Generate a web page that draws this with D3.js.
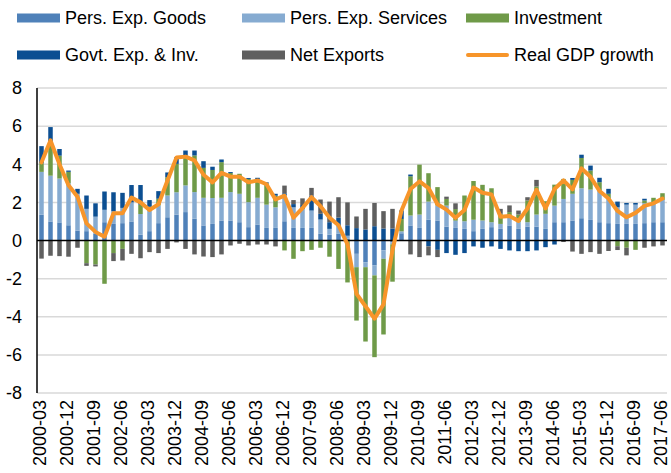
<!DOCTYPE html>
<html>
<head>
<meta charset="utf-8">
<script src="https://cdn.jsdelivr.net/npm/d3@7"></script>
<style>
  body { margin: 0; background: #fff; }
  svg { display: block; font-family: 'Liberation Sans', Arial, sans-serif; }
</style>
</head>
<body>
<svg id="chart" width="671" height="473"></svg>
<script>
// quarters, year-month of quarter end
const quarters = [
  '2000-03','2000-06','2000-09','2000-12','2001-03','2001-06','2001-09','2001-12',
  '2002-03','2002-06','2002-09','2002-12','2003-03','2003-06','2003-09','2003-12',
  '2004-03','2004-06','2004-09','2004-12','2005-03','2005-06','2005-09','2005-12',
  '2006-03','2006-06','2006-09','2006-12','2007-03','2007-06','2007-09','2007-12',
  '2008-03','2008-06','2008-09','2008-12','2009-03','2009-06','2009-09','2009-12',
  '2010-03','2010-06','2010-09','2010-12','2011-03','2011-06','2011-09','2011-12',
  '2012-03','2012-06','2012-09','2012-12','2013-03','2013-06','2013-09','2013-12',
  '2014-03','2014-06','2014-09','2014-12','2015-03','2015-06','2015-09','2015-12',
  '2016-03','2016-06','2016-09','2016-12','2017-03','2017-06'
];

// contributions to real GDP growth, percentage points
const goods = [
  1.35, 1.0, 0.95, 0.8, 0.52, 0.49, 0.35, 0.96, 0.87, 0.91, 1.0, 0.31,
  0.49, 0.91, 1.22, 1.36, 1.49, 1.14, 0.79, 0.87, 1.05, 1.05, 0.96, 0.7,
  0.84, 0.66, 0.66, 1.01, 0.66, 0.66, 0.66, 0.35, 0.3, 0.35, 0.1, -0.7,
  -1.14, -1.31, -0.52, -0.1, 0.38, 0.79, 0.66, 1.1, 1.05, 0.73, 0.66, 0.61,
  0.49, 0.61, 0.7, 0.61, 0.79, 0.61, 0.73, 0.73, 0.61, 0.96, 0.96, 1.05,
  1.17, 1.08, 0.96, 0.91, 0.87, 0.87, 0.87, 0.91, 0.96, 0.96
];
const services = [
  2.25, 2.4, 2.3, 2.2, 1.93, 1.17, 0.9, 0.65, 0.66, 0.8, 1.0, 1.08,
  1.08, 0.93, 1.14, 1.17, 1.4, 1.4, 1.45, 1.36, 1.19, 1.49, 1.49, 1.31,
  1.4, 1.22, 1.08, 1.35, 1.08, 1.0, 0.91, 0.75, 0.31, 0.4, 0.15, -0.7,
  -0.26, -0.52, -0.44, -0.1, 0.1, 0.52, 0.7, 0.94, 0.79, 1.1, 0.38, 0.4,
  0.6, 0.44, 0.26, 0.26, 0.44, 0.35, 0.23, 0.63, 0.79, 0.87, 1.22, 1.4,
  1.57, 1.59, 1.66, 1.28, 0.87, 1.01, 1.01, 1.05, 1.05, 1.17
];
const investment = [
  0.45, 1.7, 1.2, 0.6, 0.0, -1.19, -1.26, -2.27, -0.66, -0.44, 0.0, 0.49,
  0.2, 0.35, 0.96, 1.49, 1.57, 1.92, 1.57, 1.47, 1.87, 1.0, 1.05, 1.22,
  0.96, 1.12, 0.61, -0.52, -0.96, -0.56, -0.49, -0.38, -0.85, -1.49, -2.2, -2.8,
  -3.9, -4.29, -3.97, -1.96, 0.65, 2.06, 2.62, 1.49, 0.96, 0.35, 0.61, 1.35,
  2.03, 1.87, 1.78, 0.53, 0.26, 0.4, 1.14, 1.47, 0.66, 1.1, 1.05, 0.73,
  1.59, 1.0, 0.44, 0.26, -0.3, -0.38, -0.49, 0.14, 0.23, 0.35
];
const government = [
  0.9, 0.85, 0.35, 0.07, 0.26, 0.7, 0.7, 0.96, 1.0, 0.79, 0.91, 1.03,
  0.35, 0.4, 0.25, 0.35, 0.26, 0.26, 0.35, 0.17, 0.14, 0.05, 0.0, 0.05,
  0.09, 0.05, 0.1, 0.12, 0.17, 0.2, 0.79, 0.3, 0.35, 0.45, 0.55, 0.65,
  0.58, 0.75, 0.63, 0.63, 0.45, 0.09, 0.0, -0.31, -0.49, -0.66, -0.75, -0.66,
  -0.31, -0.38, -0.31, -0.44, -0.52, -0.56, -0.56, -0.52, -0.35, -0.21, 0.0, 0.1,
  0.17, 0.26, 0.23, 0.26, 0.3, 0.09, 0.09, 0.09, 0.0, 0.0
];
const netExports = [
  -0.95, -0.8, -0.82, -0.85, -0.38, -0.14, -0.1, 0.0, -0.42, -0.61, -0.7, -0.93,
  -0.61, -0.66, -0.44, -0.1, -0.44, -0.73, -0.84, -0.87, -0.73, -0.26, -0.17, -0.26,
  -0.21, -0.21, -0.31, 0.4, 0.21, 0.35, 0.4, 0.75, 1.08, 1.07, 1.2, 0.61,
  1.08, 1.22, 0.91, 1.03, 0.0, -0.73, -0.87, -0.47, -0.38, 0.12, 0.3, 0.0,
  0.0, 0.0, 0.0, 0.26, 0.35, 0.21, 0.17, 0.35, 0.0, 0.0, -0.08, -0.58,
  -0.7, -0.61, -0.7, -0.55, -0.2, -0.4, 0.0, -0.38, -0.31, -0.26
];
const gdpGrowth = [
  4.1, 5.25, 4.0, 2.9, 2.3, 0.9, 0.45, 0.2, 1.43, 1.43, 2.25, 2.0,
  1.6, 1.9, 3.15, 4.35, 4.4, 4.2, 3.45, 3.05, 3.55, 3.35, 3.35, 3.05,
  3.15, 2.95, 2.15, 2.35, 1.2, 1.7, 2.27, 1.8, 1.2, 0.8, -0.2, -2.8,
  -3.45, -4.1, -3.35, -0.5, 1.57, 2.7, 3.1, 2.75, 1.9, 1.62, 1.19, 1.6,
  2.78, 2.5, 2.42, 1.24, 1.28, 1.03, 1.68, 2.66, 1.68, 2.7, 3.15, 2.68,
  3.78, 3.34, 2.6, 2.2, 1.55, 1.22, 1.45, 1.82, 1.95, 2.2
];

const seriesNames = ['Pers. Exp. Goods', 'Pers. Exp. Services', 'Investment', 'Govt. Exp. & Inv.', 'Net Exports'];
const seriesColors = ['#4f81b9', '#86abd1', '#6f9a48', '#0c4f92', '#5f5f5f'];
const lineName = 'Real GDP growth';
const lineColor = '#f7952a';
const yTicks = [-8, -6, -4, -2, 0, 2, 4, 6, 8];

const width = 671, height = 473;
const marginLeft = 37, marginRight = 4, marginTop = 88, marginBottom = 80;

const svg = d3.select('#chart');

const rows = quarters.map((q, i) => ({
  q,
  goods: goods[i],
  services: services[i],
  investment: investment[i],
  government: government[i],
  netExports: netExports[i]
}));
const keys = ['goods', 'services', 'investment', 'government', 'netExports'];

const stacked = d3.stack()
  .keys(keys)
  .offset(d3.stackOffsetDiverging)(rows);

const x = d3.scaleBand()
  .domain(quarters)
  .range([marginLeft, width - marginRight])
  .paddingInner(0.5)
  .paddingOuter(0.25);

const y = d3.scaleLinear()
  .domain([-8, 8])
  .range([height - marginBottom, marginTop]);

// grid lines
svg.append('g')
  .selectAll('line')
  .data(yTicks.filter((d) => d !== 0))
  .join('line')
  .attr('x1', marginLeft)
  .attr('x2', width - marginRight)
  .attr('y1', (d) => y(d))
  .attr('y2', (d) => y(d))
  .attr('stroke', '#d9d9d9')
  .attr('stroke-width', 1.5);

// y axis labels
svg.append('g')
  .selectAll('text')
  .data(yTicks)
  .join('text')
  .attr('x', 22)
  .attr('y', (d) => y(d))
  .attr('dy', '0.35em')
  .attr('text-anchor', 'end')
  .attr('font-size', 18)
  .attr('fill', '#000')
  .text((d) => d);

// stacked bars
svg.append('g')
  .selectAll('g')
  .data(stacked)
  .join('g')
  .attr('fill', (d, i) => seriesColors[i])
  .selectAll('rect')
  .data((d) => d)
  .join('rect')
  .attr('x', (d) => x(d.data.q))
  .attr('width', x.bandwidth())
  .attr('y', (d) => y(Math.max(d[0], d[1])))
  .attr('height', (d) => Math.abs(y(d[0]) - y(d[1])));

// zero line and y axis line
svg.append('line')
  .attr('x1', marginLeft)
  .attr('x2', width - marginRight)
  .attr('y1', y(0))
  .attr('y2', y(0))
  .attr('stroke', '#000')
  .attr('stroke-width', 1.5);

svg.append('line')
  .attr('x1', marginLeft)
  .attr('x2', marginLeft)
  .attr('y1', y(8))
  .attr('y2', y(-8))
  .attr('stroke', '#000')
  .attr('stroke-width', 1.5);

// GDP line
const line = d3.line()
  .x((d, i) => x(quarters[i]) + x.bandwidth() / 2)
  .y((d) => y(d));

svg.append('path')
  .datum(gdpGrowth)
  .attr('fill', 'none')
  .attr('stroke', lineColor)
  .attr('stroke-width', 4)
  .attr('stroke-linejoin', 'round')
  .attr('stroke-linecap', 'round')
  .attr('d', line);

// x axis labels, every third quarter
const xAxis = d3.axisBottom(x)
  .tickValues(quarters.filter((d, i) => i % 3 === 0))
  .tickSize(0)
  .tickPadding(0);

svg.append('g')
  .attr('transform', `translate(0,${y(-8)})`)
  .call(xAxis)
  .call((g) => g.select('.domain').remove())
  .call((g) =>
    g.selectAll('text')
      .attr('font-size', 18)
      .attr('font-family', "'Liberation Sans', Arial, sans-serif")
      .attr('fill', '#000')
      .attr('text-anchor', 'end')
      .attr('transform', 'rotate(-90)')
      .attr('x', -7)
      .attr('y', 0)
      .attr('dy', '0.25em')
  );

// legend
const legendItems = [
  { name: seriesNames[0], color: seriesColors[0], type: 'rect', col: 0, row: 0 },
  { name: seriesNames[1], color: seriesColors[1], type: 'rect', col: 1, row: 0 },
  { name: seriesNames[2], color: seriesColors[2], type: 'rect', col: 2, row: 0 },
  { name: seriesNames[3], color: seriesColors[3], type: 'rect', col: 0, row: 1 },
  { name: seriesNames[4], color: seriesColors[4], type: 'rect', col: 1, row: 1 },
  { name: lineName, color: lineColor, type: 'line', col: 2, row: 1 }
];
const legendX = [17, 242, 466];
const legendY = [18, 55];

const legend = svg.append('g')
  .selectAll('g')
  .data(legendItems)
  .join('g')
  .attr('transform', (d) => `translate(${legendX[d.col]},${legendY[d.row]})`);

legend.filter((d) => d.type === 'rect')
  .append('rect')
  .attr('x', 0)
  .attr('y', -4.5)
  .attr('width', 43)
  .attr('height', 9)
  .attr('fill', (d) => d.color);

legend.filter((d) => d.type === 'line')
  .append('line')
  .attr('x1', 2)
  .attr('x2', 41)
  .attr('y1', 0)
  .attr('y2', 0)
  .attr('stroke', (d) => d.color)
  .attr('stroke-width', 4)
  .attr('stroke-linecap', 'round');

legend.append('text')
  .attr('x', 48)
  .attr('y', 0)
  .attr('dy', '0.35em')
  .attr('font-size', 18)
  .attr('fill', '#000')
  .text((d) => d.name);
</script>
</body>
</html>
